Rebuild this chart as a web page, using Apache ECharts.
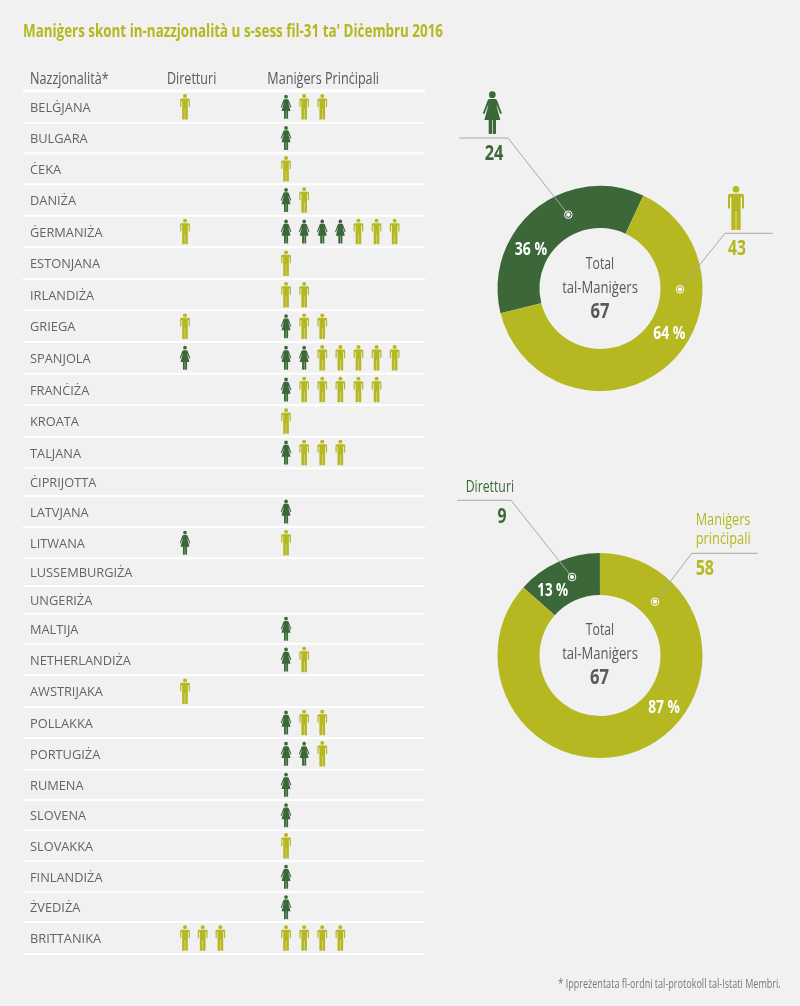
<!DOCTYPE html>
<html><head><meta charset="utf-8">
<style>html,body{margin:0;padding:0;background:#f1f1f1}#c{width:800px;height:1006px}</style>
<script src="https://cdn.jsdelivr.net/npm/echarts@6/dist/echarts.min.js"></script>
</head><body><div id="c"></div>
<script>
const nationalities=['BELĠJANA','BULGARA','ĊEKA','DANIŻA','ĠERMANIŻA','ESTONJANA','IRLANDIŻA','GRIEGA','SPANJOLA','FRANĊIŻA','KROATA','TALJANA','ĊIPRIJOTTA','LATVJANA','LITWANA','LUSSEMBURGIŻA','UNGERIŻA','MALTIJA','NETHERLANDIŻA','AWSTRIJAKA','POLLAKKA','PORTUGIŻA','RUMENA','SLOVENA','SLOVAKKA','FINLANDIŻA','ŻVEDIŻA','BRITTANIKA'];
const directorsWomen=[0,0,0,0,0,0,0,0,1,0,0,0,0,0,1,0,0,0,0,0,0,0,0,0,0,0,0,0];
const directorsMen=[1,0,0,0,1,0,0,1,0,0,0,0,0,0,0,0,0,0,0,1,0,0,0,0,0,0,0,3];
const managersWomen=[1,1,0,1,4,0,0,1,2,1,0,1,0,1,0,0,0,1,1,0,1,2,1,1,0,1,1,0];
const managersMen=[2,0,1,1,3,1,2,2,5,5,1,3,0,0,1,0,0,0,1,0,2,1,0,0,1,0,0,4];
const rowHeights=[31.7,30.6,31,31.4,31.6,31.7,31.3,31.7,31.7,31.6,31.4,31.6,27.7,31,31.3,27.7,27.7,30,31.6,31.7,31,31.7,30.3,30.3,31,31,29.7,32];
const genderNames=['Nisa','Irġiel'];
const genderValues=[24,43];
const roleNames=['Diretturi','Maniġers prinċipali'];
const roleValues=[9,58];

const LIME='#b5b820',GREEN='#3c6839',GREY='#58595b',BG='#f1f1f1',LINE='#a8a8a8';
const SANS='"Open Sans",sans-serif';
const MAN='M14 10a10 10 0 1 0 20 0a10 10 0 1 0 -20 0ZM7 23H41C45 23 48 26 48 30V64C48 66 46.5 68 45 68C43.5 68 42 66 42 64V34H38V130C38 131 37 132 36 132H27C26 132 25 131 25 130V76H23V130C23 131 22 132 21 132H12C11 132 10 131 10 130V34H6V64C6 66 4.5 68 3 68C1.5 68 0 66 0 64V30C0 26 3 23 7 23Z';
const WOMAN='M18 10a10 10 0 1 0 20 0a10 10 0 1 0 -20 0ZM20 23H36C39 23 41 25 42 27L56 64C56.5 66 55 68 53.5 68C52 68 51 67 50.5 65L41 42L40 42L52 86H39V126C39 127 38 128 37 128H31C30 128 29 127 29 126V86H27V126C27 127 26 128 25 128H19C18 128 17 127 17 126V86H4L16 42L15 42L5.5 65C5 67 4 68 2.5 68C1 68 -.5 66 0 64L14 27C15 25 17 23 20 23Z';

const edges=[0];rowHeights.forEach(h=>edges.push(edges[edges.length-1]+h));
const centre=i=>(edges[i]+edges[i+1])/2;
function slots(first,second,firstStart){
  const out=[];
  nationalities.forEach((n,i)=>{
    const w=first[i],m=second[i];
    if(firstStart){for(let k=0;k<w;k++)out.push([k,centre(i)]);}
    else{for(let k=0;k<m;k++)out.push([w+k,centre(i)]);}
  });
  return out;
}
function icons(name,path,size,color,gi,data){
  return {name,type:'scatter',xAxisIndex:gi,yAxisIndex:gi,symbol:'path://'+path,symbolSize:size,data,silent:true,
    itemStyle:{color,opacity:1},z:3};
}
const mc=document.createElement('canvas').getContext('2d');
// text squeezed horizontally to the width it takes in the reference
const txt=(text,x,y,size,fill,width,opt={})=>{
  const font=`${opt.bold?'bold ':''}${size}px ${SANS}`;
  mc.font=font;
  return {type:'text',x,y:y+1,silent:true,z:10,scaleX:width/mc.measureText(text).width,
    style:{text,font,fill,align:opt.align||'left',verticalAlign:'middle'}};
};
const poly=(pts)=>({type:'polyline',silent:true,z:8,shape:{points:pts},style:{stroke:LINE,lineWidth:1,fill:null}});
const dot=(x,y)=>[{type:'circle',silent:true,z:9,shape:{cx:x,cy:y,r:3.8},style:{fill:'none',stroke:'#fff',lineWidth:1}},{type:'circle',silent:true,z:9,shape:{cx:x,cy:y,r:2.1},style:{fill:'#fff'}}];
const pct=(v,arr)=>Math.round(v/arr.reduce((a,b)=>a+b,0)*100)+' %';

const donut=(data,cy,start)=>({type:'pie',radius:[60.5,102.5],center:[600,cy],startAngle:start,clockwise:true,silent:true,
  animation:false,itemStyle:{borderWidth:0},labelLine:{show:false},label:{show:false},data});

const option={
  backgroundColor:BG,animation:false,
  grid:[
    {left:176.15,width:88.5,top:91,height:863},
    {left:277,width:144.8,top:91,height:863},
    {left:23,width:402,top:91,height:863}
  ],
  xAxis:[
    {gridIndex:0,type:'value',min:-0.5,max:4.5,show:false},
    {gridIndex:1,type:'value',min:-0.5,max:7.5,show:false},
    {gridIndex:2,type:'value',min:0,max:1,show:false}
  ],
  yAxis:[0,1,2].map(g=>({gridIndex:g,type:'value',inverse:true,min:0,max:edges[edges.length-1],show:false})),
  series:[
    {type:'custom',xAxisIndex:2,yAxisIndex:2,silent:true,z:1,clip:false,
      data:nationalities.map((n,i)=>[i]),
      renderItem:(params,api)=>{
        const i=api.value(0);
        const left=api.coord([0,edges[i+1]]),right=api.coord([1,edges[i+1]]);
        const mid=api.coord([0,centre(i)]);
        const kids=[
          {type:'line',shape:{x1:left[0],y1:left[1],x2:right[0],y2:right[1]},style:{stroke:'#fff',lineWidth:2}},
          {type:'text',x:left[0]+7,y:mid[1]+1.5,style:{text:nationalities[i],font:'12.8px '+SANS,fill:'#636466',align:'left',verticalAlign:'middle'}}
        ];
        if(i===0){const t=api.coord([0,0]),r=api.coord([1,0]);kids.push({type:'line',shape:{x1:t[0],y1:t[1],x2:r[0],y2:r[1]},style:{stroke:'#fff',lineWidth:3}});}
        return {type:'group',children:kids};
      }},
    icons('Diretturi – nisa',WOMAN,[10.5,24],GREEN,0,slots(directorsWomen,directorsMen,true)),
    icons('Diretturi – irġiel',MAN,[9.7,25.5],LIME,0,slots(directorsWomen,directorsMen,false)),
    icons('Maniġers prinċipali – nisa',WOMAN,[10.5,24],GREEN,1,slots(managersWomen,managersMen,true)),
    icons('Maniġers prinċipali – irġiel',MAN,[9.7,25.5],LIME,1,slots(managersWomen,managersMen,false)),
    donut([{name:genderNames[0],value:genderValues[0],itemStyle:{color:GREEN}},{name:genderNames[1],value:genderValues[1],itemStyle:{color:LIME}}],288.5,194),
    donut([{name:roleNames[0],value:roleValues[0],itemStyle:{color:GREEN}},{name:roleNames[1],value:roleValues[1],itemStyle:{color:LIME}}],655.5,138.4),
    {type:'custom',coordinateSystem:'none',silent:true,z:9,data:[[0]],
      renderItem:()=>({type:'group',children:[
        {type:'path',shape:{pathData:WOMAN,x:483,y:91.3,width:18.7,height:42.7,layout:'cover'},style:{fill:GREEN}},
        {type:'path',shape:{pathData:MAN,x:728,y:186,width:16,height:44,layout:'cover'},style:{fill:LIME}}
      ]})}
  ],
  graphic:{elements:[
    txt("Maniġers skont in-nazzjonalità u s-sess fil-31 ta' Diċembru 2016",23,31,18,'#b3b81f',420,{bold:true}),
    txt('* Ippreżentata fl-ordni tal-protokoll tal-Istati Membri.',558.3,983.3,12.5,'#77787a',222.4),
    txt('Nazzjonalità*',30,78,17,GREY,78.6),
    txt('Diretturi',167,78,17,GREY,49.3),
    txt('Maniġers Prinċipali',267.3,78,17,GREY,111.7),
    txt('Total',600,263.3,17,GREY,28.3,{align:'center'}),
    txt('tal-Maniġers',600,286.7,17,GREY,75.7,{align:'center'}),
    txt('67',600,311,21,GREY,19,{align:'center',bold:true}),
    txt('Total',600,629.3,17,GREY,28.3,{align:'center'}),
    txt('tal-Maniġers',600,652.7,17,GREY,75.7,{align:'center'}),
    txt('67',599.5,677.3,21,GREY,19,{align:'center',bold:true}),
    txt(String(genderValues[0]),494,153.3,21,GREEN,18.7,{align:'center',bold:true}),
    txt(String(genderValues[1]),737,248.3,21,LIME,18,{align:'center',bold:true}),
    txt(roleNames[0],465.7,486,17,GREEN,48.3),
    txt(String(roleValues[0]),502,515.7,21,GREEN,9,{align:'center',bold:true}),
    txt('Maniġers',695.7,519,17,LIME,54.7),
    txt('prinċipali',695.7,538.3,17,LIME,55),
    txt(String(roleValues[1]),704.8,568.3,21,LIME,18.3,{align:'center',bold:true}),
    txt(pct(genderValues[0],genderValues),531,249,17,'#fff',32.3,{align:'center',bold:true}),
    txt(pct(genderValues[1],genderValues),669.3,333,17,'#fff',32.3,{align:'center',bold:true}),
    txt(pct(roleValues[0],roleValues),552.7,590,17,'#fff',31,{align:'center',bold:true}),
    txt(pct(roleValues[1],roleValues),664,706.7,17,'#fff',31.7,{align:'center',bold:true}),
    poly([[459.3,138],[508,138],[568.3,214.7]]),
    poly([[772.7,233.3],[725,233.3],[680,289.3]]),
    poly([[457.3,500.3],[511,500.3],[572,577]]),
    poly([[757.7,553.3],[691.7,553.3],[655,601.7]]),
    ...dot(568.3,214.7),...dot(680,289.3),...dot(572,577),...dot(655,601.7)
  ]}
};
const chart=echarts.init(document.getElementById('c'),null,{renderer:'canvas'});
chart.setOption(option);
</script></body></html>
